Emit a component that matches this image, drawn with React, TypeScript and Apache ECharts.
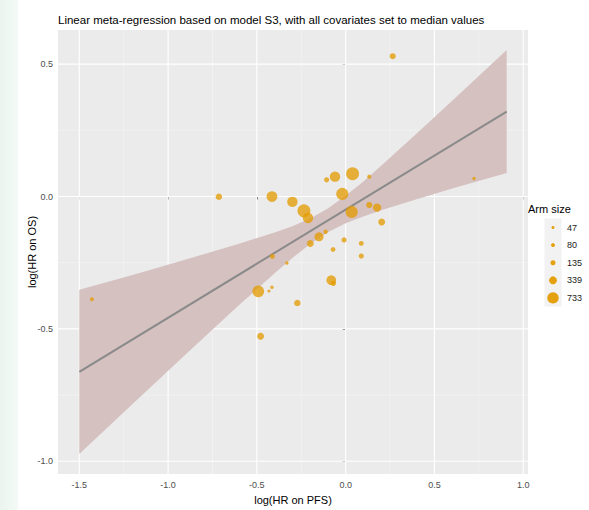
import React, { useEffect, useRef } from "react";
import * as echarts from "echarts";

const titleText = "Linear meta-regression based on model S3, with all covariates set to median values";
const xTicks = [-1.5, -1.0, -0.5, 0.0, 0.5, 1.0];
const yTicks = [-1.0, -0.5, 0.0, 0.5];
const xMinor = [-1.25, -0.75, -0.25, 0.25, 0.75];
const yMinor = [-0.75, -0.25, 0.25];

const pfs = [0.265, -0.714, -0.415, -0.3, -0.235, -0.212, -0.107, -0.06, 0.039, 0.133, -0.019, 0.034, 0.133, 0.177, 0.203, -0.113, -0.15, -0.199, -0.009, 0.088, -0.071, 0.088, -0.413, -0.331, -0.081, -0.069, -0.492, -0.415, -0.432, -0.272, -0.479, -1.429, 0.723];
const os = [0.53, -0.001, 0.0, -0.02, -0.054, -0.081, 0.063, 0.075, 0.086, 0.075, 0.01, -0.058, -0.032, -0.042, -0.096, -0.133, -0.152, -0.177, -0.164, -0.177, -0.2, -0.225, -0.226, -0.251, -0.316, -0.328, -0.358, -0.343, -0.357, -0.402, -0.528, -0.388, 0.068];
const armSize = [200, 230, 650, 600, 950, 600, 140, 600, 950, 88, 830, 830, 200, 380, 260, 100, 450, 260, 140, 120, 120, 140, 140, 60, 520, 150, 780, 60, 47, 230, 260, 80, 60];

const fitX = [-1.5, 0.907];
const fitY = [-0.662, 0.321];

const bandX = [-1.5, -1.2, -0.9, -0.6, -0.4, -0.3, -0.2, -0.1, 0, 0.1, 0.2, 0.4, 0.6, 0.907];
const bandHi = [-0.352, -0.296, -0.238, -0.178, -0.136, -0.112, -0.083, -0.045, 0.003, 0.057, 0.116, 0.238, 0.362, 0.553];
const bandLo = [-0.972, -0.784, -0.596, -0.41, -0.29, -0.232, -0.179, -0.135, -0.101, -0.075, -0.052, -0.01, 0.03, 0.089];

const legendSizes = [47, 80, 135, 339, 733];

const FONT = "Liberation Sans, Arial, sans-serif";
const ORANGE = "rgba(228,155,0,0.95)";
const sizeOf = (v: number) => 0.41 * Math.sqrt(v) + 0.3;

export default function App() {
  const ref = useRef<HTMLDivElement>(null);
  useEffect(() => {
    if (!ref.current) return;
    const chart = echarts.init(ref.current, null, { renderer: "svg" });

    const gridData: number[][] = [];
    xTicks.forEach((v) => gridData.push([v, 0, 0, 1]));
    xMinor.forEach((v) => gridData.push([v, 0, 0, 0]));
    yTicks.forEach((v) => gridData.push([0, v, 1, 1]));
    yMinor.forEach((v) => gridData.push([0, v, 1, 0]));

    const legendEls: any[] = [
      { type: "text", x: 528, y: 209, style: { text: "Arm size", fontSize: 11, fontFamily: FONT, fill: "#000", textVerticalAlign: "middle" } },
      { type: "rect", shape: { x: 544.5, y: 218.5, width: 17, height: 88 }, style: { fill: "#F2F2F2" } },
    ];
    legendSizes.forEach((v, i) => {
      const cy = 227.5 + 17.6 * i;
      legendEls.push({ type: "circle", shape: { cx: 553, cy, r: sizeOf(v) / 2 }, style: { fill: ORANGE } });
      legendEls.push({ type: "text", x: 567, y: cy, style: { text: String(v), fontSize: 9, fontFamily: FONT, fill: "#1a1a1a", textVerticalAlign: "middle" } });
    });

    const axisCommon = {
      type: "value",
      axisLine: { show: false },
      splitLine: { show: false },
      nameLocation: "middle",
      nameMoveOverlap: false,
      nameTextStyle: { fontSize: 11, color: "#000", fontFamily: FONT },
    };

    chart.setOption({
      animation: false,
      title: {
        text: titleText,
        left: 53,
        top: 9,
        textStyle: { fontSize: 11.5, fontWeight: "normal", color: "#000", fontFamily: FONT },
      },
      grid: { left: 58, right: 61, top: 30, bottom: 30, show: true, backgroundColor: "#EBEBEB", borderWidth: 0 },
      xAxis: {
        ...axisCommon,
        min: -1.62,
        max: 1.027,
        name: "log(HR on PFS)",
        nameGap: 20,
        axisTick: { show: true, customValues: xTicks, length: 3, lineStyle: { color: "#333" } },
        axisLabel: { customValues: xTicks, formatter: (v: number) => v.toFixed(1), color: "#4d4d4d", fontSize: 9, margin: 6, fontFamily: FONT },
      },
      yAxis: {
        ...axisCommon,
        min: -1.048,
        max: 0.629,
        name: "log(HR on OS)",
        nameGap: 21,
        axisTick: { show: true, customValues: yTicks, length: 3, lineStyle: { color: "#333" } },
        axisLabel: { customValues: yTicks, formatter: (v: number) => v.toFixed(1), color: "#4d4d4d", fontSize: 9, margin: 5, fontFamily: FONT },
      },
      graphic: [
        {
          type: "rect",
          shape: { x: 0, y: 0, width: 18, height: 510 },
          style: {
            fill: {
              type: "linear", x: 0, y: 0, x2: 1, y2: 0,
              colorStops: [{ offset: 0, color: "#e9f5ee" }, { offset: 1, color: "#f5faf7" }],
            },
          },
          z: -10,
        },
        { type: "group", children: legendEls },
      ],
      series: [
        {
          type: "custom",
          z: 1,
          silent: true,
          data: gridData,
          encode: { x: 0, y: 1 },
          renderItem: (params: any, api: any) => {
            const cs = params.coordSys;
            const dir = api.value(2);
            const major = api.value(3);
            const style = { stroke: major ? "#FFFFFF" : "#F5F5F5", lineWidth: major ? 1.1 : 0.6 };
            if (dir === 0) {
              const p = api.coord([api.value(0), 0]);
              return { type: "line", shape: { x1: p[0], y1: cs.y, x2: p[0], y2: cs.y + cs.height }, style };
            }
            const p = api.coord([0, api.value(1)]);
            return { type: "line", shape: { x1: cs.x, y1: p[1], x2: cs.x + cs.width, y2: p[1] }, style };
          },
        },
        {
          type: "custom",
          z: 2,
          silent: true,
          data: bandX.map((x, i) => [x, bandLo[i], bandHi[i]]),
          encode: { x: 0, y: [1, 2] },
          renderItem: (params: any, api: any) => {
            if (params.dataIndex !== 0) return null;
            const up = bandX.map((x, i) => api.coord([x, bandHi[i]]));
            const lo = bandX.map((x, i) => api.coord([x, bandLo[i]])).reverse();
            return { type: "polygon", shape: { points: [...up, ...lo] }, style: { fill: "#D6C1C1" } };
          },
        },
        {
          type: "line",
          z: 3,
          silent: true,
          data: fitX.map((x, i) => [x, fitY[i]]),
          symbol: "none",
          lineStyle: { color: "#8a8a8a", width: 2 },
        },
        {
          type: "scatter",
          z: 4,
          data: pfs.map((x, i) => [x, os[i], armSize[i]]),
          symbolSize: (v: number[]) => sizeOf(v[2]),
          itemStyle: { color: ORANGE },
        },
      ],
    });
    return () => chart.dispose();
  }, []);
  return <div ref={ref} style={{ position: "absolute", left: 0, top: 0, width: 589, height: 510 }} />;
}
